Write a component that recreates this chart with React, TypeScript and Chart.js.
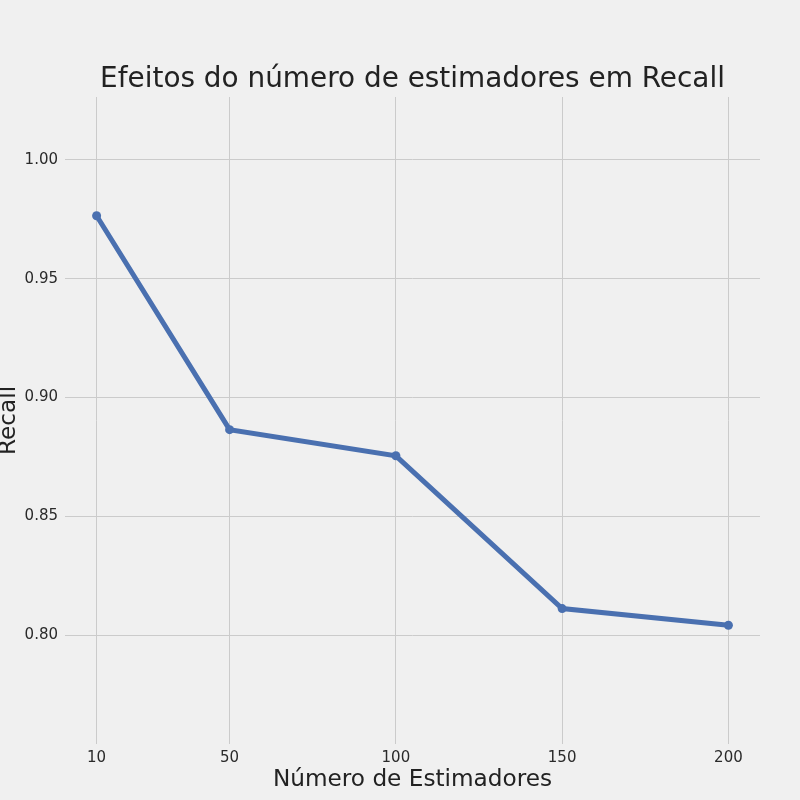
import React, { useEffect, useRef } from "react";
import { Chart, registerables } from "chart.js";

Chart.register(...registerables);

const estimators = [10, 50, 100, 150, 200];
const recall = [0.9765, 0.8865, 0.8755, 0.8112, 0.8042];
const yTicks = [0.8, 0.85, 0.9, 0.95, 1.0];
const xTicks = [10, 50, 100, 150, 200];
const titleText = "Efeitos do número de estimadores em Recall";
const xLabel = "Número de Estimadores";
const yLabel = "Recall";

const FONT = "'DejaVu Sans', sans-serif";

const labelsPlugin = {
  id: "mplLabels",
  afterDraw(chart: any) {
    const { ctx, chartArea } = chart;
    const cx = (chartArea.left + chartArea.right) / 2;
    const cy = (chartArea.top + chartArea.bottom) / 2;
    ctx.save();
    ctx.fillStyle = "#222222";
    ctx.textAlign = "center";
    ctx.textBaseline = "middle";
    ctx.font = `27.9px ${FONT}`;
    ctx.fillText(titleText, cx, 80);
    ctx.font = `23.2px ${FONT}`;
    ctx.fillText(xLabel, cx, 780);
    ctx.translate(9, cy);
    ctx.rotate(-Math.PI / 2);
    ctx.fillText(yLabel, 0, 0);
    ctx.restore();
  },
};

export default function App() {
  const ref = useRef<HTMLCanvasElement>(null);
  useEffect(() => {
    document.body.style.margin = "0";
    document.body.style.background = "#f0f0f0";
    const chart = new Chart(ref.current!, {
      type: "line",
      data: {
        datasets: [
          {
            data: estimators.map((x, i) => ({ x, y: recall[i] })),
            borderColor: "#4a70b0",
            backgroundColor: "#4a70b0",
            borderWidth: 5,
            pointRadius: 4.5,
            pointHoverRadius: 4.5,
            pointBorderWidth: 0,
            tension: 0,
            fill: false,
          },
        ],
      },
      options: {
        animation: false,
        responsive: false,
        layout: { padding: { top: 97, right: 40, left: 0, bottom: 0 } },
        plugins: {
          legend: { display: false },
          tooltip: { enabled: false },
          title: { display: false },
        },
        scales: {
          x: {
            type: "linear",
            min: 0.5,
            max: 209.5,
            afterBuildTicks: (s: any) => {
              s.ticks = xTicks.map((v) => ({ value: v }));
            },
            afterFit: (s: any) => {
              s.height = 56;
            },
            grid: { color: "#cbcbcb", lineWidth: 1, drawTicks: false },
            border: { display: false },
            ticks: {
              padding: 5,
              color: "#2a2a2a",
              font: { family: FONT, size: 15 },
              maxRotation: 0,
              callback: (v: any) => String(v),
            },
          },
          y: {
            type: "linear",
            min: 0.7542,
            max: 1.0265,
            afterBuildTicks: (s: any) => {
              s.ticks = yTicks.map((v) => ({ value: v }));
            },
            afterFit: (s: any) => {
              s.width = 65;
            },
            grid: { color: "#cbcbcb", lineWidth: 1, drawTicks: false },
            border: { display: false },
            ticks: {
              padding: 7,
              color: "#2a2a2a",
              font: { family: FONT, size: 15 },
              callback: (v: any) => Number(v).toFixed(2),
            },
          },
        },
      },
      plugins: [labelsPlugin],
    });
    return () => chart.destroy();
  }, []);
  return (
    <div style={{ width: 800, height: 800, background: "#f0f0f0" }}>
      <canvas ref={ref} width={800} height={800} style={{ display: "block" }} />
    </div>
  );
}
